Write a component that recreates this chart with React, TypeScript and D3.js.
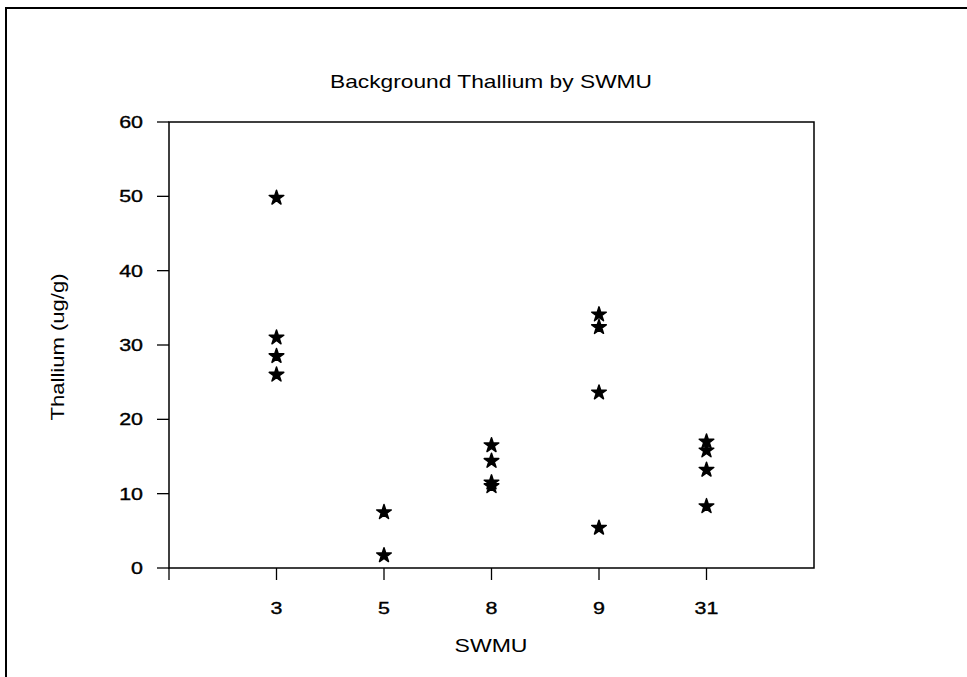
import * as d3 from "d3";

// SWMU categories along the x axis
const swmus = ["3", "5", "8", "9", "31"];

// thallium readings (ug/g) per SWMU
const swmu3 = [49.8, 31.0, 28.5, 26.0];
const swmu5 = [7.5, 1.7];
const swmu8 = [16.5, 14.4, 11.5, 11.0];
const swmu9 = [34.1, 32.4, 23.6, 5.4];
const swmu31 = [17.0, 15.8, 13.2, 8.3];

const yTicks = [0, 10, 20, 30, 40, 50, 60];

const width = 967;
const height = 677;
const left = 169;
const right = 814;
const top = 122;
const bottom = 568;

const font = "'Liberation Sans', Arial, Helvetica, sans-serif";

function App() {
  const groups = [swmu3, swmu5, swmu8, swmu9, swmu31];
  const points = groups.flatMap((vals, i) => vals.map((v) => ({ cat: i + 1, v })));

  const xScale = d3.scaleLinear().domain([0, 6]).range([left, right]);
  const yScale = d3.scaleLinear().domain([0, 60]).range([bottom, top]);

  const star = d3.symbol().type(d3.symbolStar).size(66)();

  return (
    <svg
      width={width}
      height={height}
      style={{ position: "absolute", left: 0, top: 0, background: "#fff" }}
      fontFamily={font}
    >
      {/* outer frame */}
      <rect x={6} y={8} width={width + 10} height={height + 10} fill="none" stroke="#000" strokeWidth={2} />

      <text x={491} y={88} textAnchor="middle" fontSize={19} textLength={322} lengthAdjust="spacingAndGlyphs">
        Background Thallium by SWMU
      </text>

      {/* plot box */}
      <path
        d={`M${left},${top}H${right}V${bottom}H${left}Z`}
        fill="none"
        stroke="#000"
        strokeWidth={1.5}
      />

      {/* y axis ticks */}
      {yTicks.map((t) => (
        <g key={t} transform={`translate(0,${yScale(t)})`}>
          <line x1={left - 12} x2={left} stroke="#000" strokeWidth={1.3} />
          <text
            transform={`translate(143,6) scale(1.3,1)`}
            textAnchor="end"
            fontSize={16.5}
            stroke="#000"
            strokeWidth={0.35}
          >
            {t}
          </text>
        </g>
      ))}

      {/* x axis ticks */}
      <line x1={left} x2={left} y1={bottom} y2={bottom + 12} stroke="#000" strokeWidth={1.3} />
      {swmus.map((s, i) => (
        <g key={s} transform={`translate(${xScale(i + 1)},0)`}>
          <line y1={bottom} y2={bottom + 12} stroke="#000" strokeWidth={1.3} />
          <text
            transform={`translate(0,614) scale(1.3,1)`}
            textAnchor="middle"
            fontSize={16.5}
            stroke="#000"
            strokeWidth={0.35}
          >
            {s}
          </text>
        </g>
      ))}

      <text x={491} y={652} textAnchor="middle" fontSize={18.5} textLength={73} lengthAdjust="spacingAndGlyphs">
        SWMU
      </text>
      <text
        transform={`translate(64,347) rotate(-90)`}
        textAnchor="middle"
        fontSize={18}
        textLength={147}
        lengthAdjust="spacingAndGlyphs"
      >
        Thallium (ug/g)
      </text>

      {points.map((p, i) => (
        <path
          key={i}
          d={star}
          transform={`translate(${xScale(p.cat)},${yScale(p.v)})`}
          fill="#000"
          stroke="#000"
          strokeWidth={1.5}
          strokeLinejoin="round"
        />
      ))}
    </svg>
  );
}

export default App;
